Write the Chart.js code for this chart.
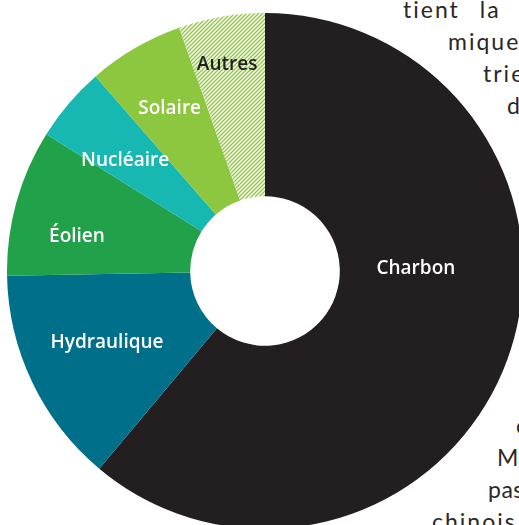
<!DOCTYPE html>
<html>
<head>
<meta charset="utf-8">
<script src="https://cdn.jsdelivr.net/npm/chart.js@4/dist/chart.umd.min.js"></script>
<style>
  html, body { margin: 0; padding: 0; background: #ffffff; }
  body { width: 519px; height: 525px; overflow: hidden; position: relative; }
  #wrap { position: absolute; left: 7px; top: 13px; width: 516px; height: 516px; z-index: 2; }
  .bt { position: absolute; font-family: "Lato", sans-serif; font-weight: 400; font-size: 23px;
        letter-spacing: 2px; color: #2b2728; white-space: nowrap; line-height: 28px; z-index: 1; }
</style>
</head>
<body>
<div class="bt" style="left:403px; top:-5px; word-spacing:12px;">tient la</div>
<div class="bt" style="left:448px; top:27px;">mique</div>
<div class="bt" style="left:483px; top:59px;">trielle</div>
<div class="bt" style="left:507px; top:91px;">de</div>
<div class="bt" style="left:516px; top:411px;">ce</div>
<div class="bt" style="left:497px; top:443px;">Ma</div>
<div class="bt" style="left:488px; top:475px; letter-spacing:0.5px;">pas</div>
<div class="bt" style="left:432px; top:507px;">chinois</div>
<div id="wrap"><canvas id="c" width="516" height="516"></canvas></div>
<script>
// Data
const categories = ["Charbon", "Hydraulique", "Éolien", "Nucléaire", "Solaire", "Autres"];
const shares = [61.1, 13.6, 9.2, 4.7, 6.0, 5.4];

// Styles
const sliceColors = ["#231f20", "#00708a", "#21a24a", "#17b8b2", "#8dc63f", null];
const labelColors = ["#ffffff", "#ffffff", "#ffffff", "#ffffff", "#ffffff", "#231f20"];
const labelRadius = [0.585, 0.67, 0.742, 0.695, 0.734, 0.819];
const labelShiftDeg = [-21.5, 1.6, -4.7, -1.8, 0, -0.6];

function hatch() {
  const p = document.createElement('canvas');
  p.width = 4; p.height = 4;
  const g = p.getContext('2d');
  g.fillStyle = '#ffffff';
  g.fillRect(0, 0, 4, 4);
  g.strokeStyle = '#8dc63f';
  g.lineWidth = 1.3;
  g.beginPath();
  g.moveTo(-1, 5); g.lineTo(5, -1);
  g.moveTo(-1, 1); g.lineTo(1, -1);
  g.moveTo(3, 5); g.lineTo(5, 3);
  g.stroke();
  return g.createPattern(p, 'repeat');
}
const ctx = document.getElementById('c').getContext('2d');
const bg = sliceColors.map(c => c || hatch());

const labelPlugin = {
  id: 'sliceLabels',
  afterDatasetsDraw(chart) {
    const meta = chart.getDatasetMeta(0);
    const c = chart.ctx;
    const fs = 19;
    c.save();
    c.font = '600 ' + fs + 'px "Open Sans", sans-serif';
    c.textAlign = 'center';
    c.textBaseline = 'alphabetic';
    meta.data.forEach((arc, i) => {
      const p = arc.getProps(['x', 'y', 'startAngle', 'endAngle', 'outerRadius'], true);
      const a = (p.startAngle + p.endAngle) / 2 + labelShiftDeg[i] * Math.PI / 180;
      const r = p.outerRadius * labelRadius[i];
      c.fillStyle = labelColors[i];
      c.fillText(categories[i], p.x + Math.cos(a) * r, p.y + Math.sin(a) * r + 0.357 * fs);
    });
    c.restore();
  }
};

new Chart(ctx, {
  type: 'doughnut',
  data: {
    labels: categories,
    datasets: [{ data: shares, backgroundColor: bg, borderWidth: 0, hoverOffset: 0 }]
  },
  options: {
    responsive: false,
    animation: false,
    cutout: '29%',
    layout: { padding: 0 },
    plugins: { legend: { display: false }, tooltip: { enabled: false } }
  },
  plugins: [labelPlugin]
});
</script>
</body>
</html>
